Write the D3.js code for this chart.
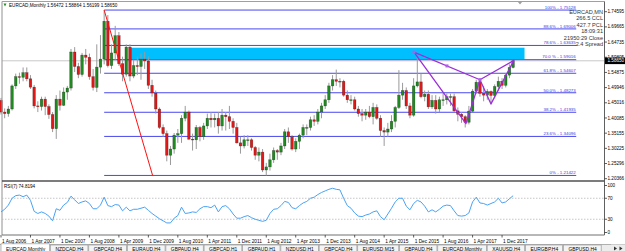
<!DOCTYPE html>
<html><head><meta charset="utf-8">
<script src="https://cdn.jsdelivr.net/npm/d3@7"></script>
<style>
body{margin:0;background:#fff;}
svg{display:block;font-family:"Liberation Sans",Arial,sans-serif;}
</style>
</head><body>
<svg id="c" width="625" height="251"></svg>
<script>
// ---------------- DATA ----------------
const months = ["2006-08","2006-09","2006-10","2006-11","2006-12",
"2007-01","2007-02","2007-03","2007-04","2007-05","2007-06","2007-07","2007-08","2007-09","2007-10","2007-11","2007-12",
"2008-01","2008-02","2008-03","2008-04","2008-05","2008-06","2008-07","2008-08","2008-09","2008-10","2008-11","2008-12",
"2009-01","2009-02","2009-03","2009-04","2009-05","2009-06","2009-07","2009-08","2009-09","2009-10","2009-11","2009-12",
"2010-01","2010-02","2010-03","2010-04","2010-05","2010-06","2010-07","2010-08","2010-09","2010-10","2010-11","2010-12",
"2011-01","2011-02","2011-03","2011-04","2011-05","2011-06","2011-07","2011-08","2011-09","2011-10","2011-11","2011-12",
"2012-01","2012-02","2012-03","2012-04","2012-05","2012-06","2012-07","2012-08","2012-09","2012-10","2012-11","2012-12",
"2013-01","2013-02","2013-03","2013-04","2013-05","2013-06","2013-07","2013-08","2013-09","2013-10","2013-11","2013-12",
"2014-01","2014-02","2014-03","2014-04","2014-05","2014-06","2014-07","2014-08","2014-09","2014-10","2014-11","2014-12",
"2015-01","2015-02","2015-03","2015-04","2015-05","2015-06","2015-07","2015-08","2015-09","2015-10","2015-11","2015-12",
"2016-01","2016-02","2016-03","2016-04","2016-05","2016-06","2016-07","2016-08","2016-09","2016-10","2016-11","2016-12",
"2017-01","2017-02","2017-03","2017-04","2017-05","2017-06","2017-07","2017-08","2017-09","2017-10","2017-11","2017-12",
"2018-01","2018-02","2018-03"];

const open = [1.458,1.420,1.415,1.430,1.505,
1.535,1.533,1.548,1.528,1.501,1.440,1.438,1.462,1.438,1.412,1.366,1.462,
1.442,1.485,1.498,1.615,1.568,1.542,1.605,1.598,1.535,1.500,1.566,1.592,
1.715,1.571,1.612,1.668,1.577,1.543,1.631,1.537,1.571,1.568,1.592,1.586,
1.507,1.482,1.430,1.370,1.350,1.280,1.300,1.345,1.350,1.400,1.420,1.332,
1.330,1.370,1.340,1.375,1.400,1.395,1.400,1.375,1.410,1.405,1.390,1.370,
1.320,1.310,1.330,1.330,1.305,1.280,1.290,1.232,1.242,1.265,1.295,1.290,
1.310,1.356,1.340,1.300,1.325,1.345,1.370,1.370,1.395,1.390,1.420,1.440,
1.460,1.505,1.525,1.520,1.520,1.475,1.460,1.460,1.430,1.415,1.410,1.420,
1.405,1.435,1.400,1.360,1.355,1.365,1.390,1.435,1.475,1.490,1.440,1.410,
1.505,1.518,1.470,1.478,1.437,1.458,1.430,1.460,1.460,1.470,1.470,1.424,
1.413,1.405,1.387,1.423,1.488,1.517,1.481,1.475,1.487,1.474,1.503,1.520,
1.507,1.540,1.56472];
const high = [1.466,1.432,1.440,1.510,1.545,
1.548,1.565,1.565,1.540,1.508,1.455,1.470,1.470,1.445,1.420,1.475,1.490,
1.500,1.505,1.625,1.631,1.580,1.612,1.625,1.610,1.560,1.640,1.670,1.751,
1.735,1.640,1.700,1.680,1.600,1.640,1.640,1.590,1.600,1.610,1.615,1.600,
1.525,1.490,1.435,1.380,1.360,1.310,1.352,1.365,1.410,1.440,1.425,1.350,
1.378,1.375,1.385,1.415,1.420,1.415,1.420,1.430,1.420,1.440,1.400,1.385,
1.340,1.345,1.345,1.335,1.310,1.305,1.300,1.255,1.285,1.305,1.300,1.320,
1.365,1.370,1.345,1.335,1.350,1.380,1.380,1.405,1.410,1.430,1.450,1.475,
1.515,1.540,1.558,1.530,1.525,1.490,1.475,1.470,1.440,1.430,1.430,1.440,
1.450,1.445,1.410,1.370,1.385,1.410,1.440,1.556,1.515,1.500,1.450,1.530,
1.599,1.545,1.490,1.490,1.475,1.475,1.470,1.485,1.480,1.480,1.480,1.435,
1.420,1.410,1.440,1.495,1.525,1.530,1.505,1.495,1.490,1.510,1.535,1.530,
1.545,1.575,1.58864];
const low = [1.412,1.400,1.405,1.425,1.495,
1.512,1.520,1.520,1.495,1.432,1.420,1.425,1.410,1.398,1.355,1.333,1.425,
1.440,1.460,1.490,1.550,1.530,1.535,1.575,1.525,1.490,1.485,1.545,1.575,
1.565,1.560,1.590,1.570,1.520,1.535,1.520,1.530,1.540,1.525,1.560,1.495,
1.470,1.415,1.365,1.340,1.260,1.248,1.285,1.320,1.320,1.390,1.330,1.295,
1.300,1.325,1.330,1.365,1.370,1.370,1.350,1.360,1.360,1.365,1.350,1.318,
1.285,1.302,1.310,1.295,1.265,1.260,1.225,1.214,1.230,1.255,1.265,1.280,
1.300,1.320,1.295,1.290,1.300,1.335,1.345,1.360,1.375,1.380,1.400,1.430,
1.450,1.490,1.505,1.500,1.470,1.450,1.445,1.425,1.405,1.390,1.395,1.400,
1.380,1.395,1.340,1.310,1.340,1.355,1.370,1.430,1.460,1.430,1.400,1.405,
1.500,1.465,1.455,1.430,1.430,1.415,1.420,1.440,1.445,1.440,1.420,1.390,
1.385,1.370,1.380,1.420,1.480,1.470,1.455,1.460,1.445,1.465,1.490,1.495,
1.500,1.530,1.56199];
const close = [1.420,1.415,1.430,1.505,1.535,
1.533,1.548,1.528,1.501,1.440,1.438,1.462,1.438,1.412,1.366,1.462,1.442,
1.485,1.498,1.615,1.568,1.542,1.605,1.598,1.535,1.500,1.566,1.592,1.715,
1.571,1.612,1.668,1.577,1.543,1.631,1.537,1.571,1.568,1.592,1.586,1.507,
1.482,1.430,1.370,1.350,1.280,1.300,1.345,1.350,1.400,1.420,1.332,1.330,
1.370,1.340,1.375,1.400,1.395,1.400,1.375,1.410,1.405,1.390,1.370,1.320,
1.310,1.330,1.330,1.305,1.280,1.290,1.232,1.242,1.265,1.295,1.290,1.310,
1.356,1.340,1.300,1.325,1.345,1.370,1.370,1.395,1.390,1.420,1.440,1.460,
1.505,1.525,1.520,1.520,1.475,1.460,1.460,1.430,1.415,1.410,1.420,1.405,
1.435,1.400,1.360,1.355,1.365,1.390,1.435,1.475,1.490,1.440,1.410,1.505,
1.518,1.470,1.478,1.437,1.458,1.430,1.460,1.460,1.470,1.470,1.424,1.413,
1.405,1.387,1.423,1.488,1.517,1.481,1.475,1.487,1.474,1.503,1.520,1.507,
1.540,1.565,1.58650];
const rsi = [44,49,57,70,75,
76,73,76,66,45,41,44,41,36,27,50,47,
57,62,74,67,60,63,65,60,50,50,57,72,
56,54,58,57,46,53,46,49,49,51,53,47,
41,36,31,27,23,23,32,37,53,41,42,44,
43,50,54,54,52,57,44,54,56,50,40,32,
32,35,37,33,30,28,26,28,41,49,50,56,
64,62,52,50,56,61,64,70,72,77,81,84,
87,89,87,86,70,56,51,42,36,35,38,40,
44,46,35,29,40,51,63,70,70,55,48,60,
66,63,55,44,48,44,49,55,57,56,46,37,
36,37,42,63,72,61,60,57,60,63,70,61,
63,69,74.8194];

const priceTicks = [1.74595,1.69665,1.64735,1.59805,1.54875,1.49946,1.45016,1.40085,1.35155,1.30225,1.25296,1.20366];
const timeTickIdx = [0,8,16,24,32,40,48,56,64,72,80,88,96,104,112,120,128,136];
const timeTickLabels = ["1 Aug 2006","1 Apr 2007","1 Dec 2007","1 Aug 2008","1 Apr 2009","1 Dec 2009","1 Aug 2010","1 Apr 2011","1 Dec 2011","1 Aug 2012","1 Apr 2013","1 Dec 2013","1 Aug 2014","1 Apr 2015","1 Dec 2015","1 Aug 2016","1 Apr 2017","1 Dec 2017"];
const rsiTicks = [100,70,30,0];

const fibPrices = [1.21422,1.34096,1.41935,1.48273,1.54607,1.59016,1.63635,1.69006,1.75128];
const fibLabels = ["0% - 1.21422","23.6% - 1.34096","38.2% - 1.41935","50.0% - 1.48273","61.8% - 1.54607","70.0 % - 1.59016","78.6% - 1.63635","88.6% - 1.69006","100% - 1.75128"];
const fibTimeStart = 28, fibTimeEnd = 156; // month index
const fibTrend = {i1:28, p1:1.75128, i2:41.15, p2:1.21422};
const zoneRect = {i1:35.3, i2:142.1, p1:1.5915, p2:1.6290};
const patternNames = ["X","A","B","C","D"];
const patternIdx = [112.1,126.2,130.0,133.0,139.2];
const patternPrice = [1.6147,1.3824,1.5250,1.4465,1.5878];

const title = "EURCAD,Monthly  1.56472 1.58864 1.56199 1.58650";
const infoLines = ["EURCAD,MN","266.5 CCL","427.7 PCL","18:09:31","21950:29 Close","2.4 Spread"];
const bid = 1.58650;
const rsiLabel = "RSI(7) 74.8194";
const tabs = ["EURCAD,Monthly","NZDCAD,H4","GBPCAD,H4","EURAUD,H4","GBPAUD,H4","GBPCAD,H1","GBPAUD,H1","NZDUSD,H1","GBPCAD,H4","EURUSD,M15","GBPAUD,H4","EURCAD,Monthly","XAUUSD,H4","EURGBP,H4","GBPUSD,H4"];

// ---------------- LAYOUT ----------------
const svg = d3.select("#c");
const L = 2, R = 604.5, T = 1.5, MB = 181, RT = 182.5, RB = 235;
const x = d3.scaleLinear().domain([0,139]).range([1,513.1]);
const y = d3.scaleLinear().domain([1.20366,1.74595]).range([178.7,11.7]);
const ry = d3.scaleLinear().domain([0,100]).range([235,182.5]);

svg.append("rect").attr("width",625).attr("height",251).attr("fill","#fff");
const defs = svg.append("defs");
defs.append("clipPath").attr("id","mainclip").append("rect").attr("x",0).attr("y",T).attr("width",R-0).attr("height",MB-T-0.8);
defs.append("clipPath").attr("id","rsiclip").append("rect").attr("x",0).attr("y",RT).attr("width",R).attr("height",RB-RT);

const main = svg.append("g").attr("clip-path","url(#mainclip)");

// zone rectangle
main.append("rect")
  .attr("x",x(zoneRect.i1)).attr("width",x(zoneRect.i2)-x(zoneRect.i1))
  .attr("y",y(zoneRect.p2)).attr("height",y(zoneRect.p1)-y(zoneRect.p2))
  .attr("fill","#00bfff");

// bid line
main.append("line").attr("x1",L).attr("x2",R).attr("y1",y(bid)).attr("y2",y(bid))
  .attr("stroke","#c8c8c8").attr("stroke-width",1);

// fib levels
main.selectAll("line.fib").data(fibPrices).join("line").attr("class","fib")
  .attr("x1",x(fibTimeStart)).attr("x2",x(fibTimeEnd)+0.5)
  .attr("y1",d=>y(d)).attr("y2",d=>y(d))
  .attr("stroke","#4848ee").attr("stroke-width",1);
main.selectAll("text.fib").data(fibPrices).join("text").attr("class","fib")
  .attr("x",x(fibTimeEnd)).attr("y",d=>y(d)-1.2)
  .attr("text-anchor","end").attr("font-size",4.4).attr("fill","#3a3ae0")
  .text((d,i)=>fibLabels[i]);

// candles
const idx = d3.range(months.length);
main.selectAll("line.wick").data(idx).join("line").attr("class","wick")
  .attr("x1",i=>x(i)).attr("x2",i=>x(i))
  .attr("y1",i=>y(high[i])).attr("y2",i=>y(low[i]))
  .attr("stroke","#9a9a9a").attr("stroke-width",1);
main.selectAll("rect.body").data(idx).join("rect").attr("class","body")
  .attr("x",i=>x(i)-1.3).attr("width",2.6)
  .attr("y",i=>y(Math.max(open[i],close[i])))
  .attr("height",i=>Math.max(0.8,Math.abs(y(open[i])-y(close[i]))))
  .attr("fill",i=>close[i]>=open[i]?"#1f8a1f":"#e01818")
  .attr("stroke","rgba(0,0,0,0.45)").attr("stroke-width",0.5);

// fib trend line
main.append("line")
  .attr("x1",x(fibTrend.i1)).attr("y1",y(fibTrend.p1))
  .attr("x2",x(fibTrend.i2)).attr("y2",y(fibTrend.p2))
  .attr("stroke","#ff1010").attr("stroke-width",1);

// harmonic pattern
const P = patternIdx.map((v,k)=>[x(v),y(patternPrice[k])]);
const tri = [[0,1,2],[2,3,4]];
tri.forEach(t=>{
  main.append("path").attr("d","M"+t.map(k=>P[k].join(",")).join("L")+"Z")
    .attr("fill","none").attr("stroke","#9b2fd8").attr("stroke-width",1.3).attr("stroke-linejoin","round");
});
const handles = [P[0],[(P[0][0]+P[2][0])/2,(P[0][1]+P[2][1])/2],P[2]];
main.selectAll("rect.h").data(handles).join("rect").attr("class","h")
  .attr("x",d=>d[0]-1.5).attr("y",d=>d[1]-1.5).attr("width",3).attr("height",3)
  .attr("fill","#b060e8");

// title & info
svg.append("text").attr("x",9).attr("y",7).attr("font-size",4.6).attr("fill","#000").text(title);
svg.append("path").attr("d","M3.5,3.5L6.5,3.5L5,6.5Z").attr("fill","#2a8a2a");
svg.selectAll("text.info").data(infoLines).join("text").attr("class","info")
  .attr("x",603).attr("y",(d,i)=>14+i*6.4).attr("text-anchor","end")
  .attr("font-size",5.6).attr("fill","#333").text(d=>d);
// shift marker
svg.append("path").attr("d","M517.5,1.5L522.5,1.5L520,4.5Z").attr("fill","#a0a0a0");

// frame
svg.append("line").attr("x1",L).attr("x2",L).attr("y1",T).attr("y2",RB).attr("stroke","#909090").attr("stroke-width",1);
svg.append("line").attr("x1",L).attr("x2",R).attr("y1",T).attr("y2",T).attr("stroke","#a0a0a0").attr("stroke-width",1);
svg.append("line").attr("x1",R).attr("x2",R).attr("y1",T).attr("y2",RB).attr("stroke","#606060").attr("stroke-width",1);
svg.append("line").attr("x1",L).attr("x2",R).attr("y1",MB).attr("y2",MB).attr("stroke","#505050").attr("stroke-width",1.6);
svg.append("line").attr("x1",L).attr("x2",R).attr("y1",RB).attr("y2",RB).attr("stroke","#707070").attr("stroke-width",1);

// price axis
const pa = svg.append("g");
pa.selectAll("line").data(priceTicks).join("line")
  .attr("x1",R).attr("x2",R+2.5).attr("y1",d=>y(d)).attr("y2",d=>y(d)).attr("stroke","#333").attr("stroke-width",0.8);
pa.selectAll("text").data(priceTicks).join("text")
  .attr("x",607.5).attr("y",d=>y(d)+1.6).attr("font-size",4.6).attr("fill","#000")
  .text(d=>d.toFixed(5));
// bid box
svg.append("rect").attr("x",R+0.5).attr("y",y(bid)-3.3).attr("width",625-R).attr("height",6.6).attr("fill","#000");
svg.append("text").attr("x",607.5).attr("y",y(bid)+1.6).attr("font-size",4.6).attr("fill","#fff").text(bid.toFixed(5));

// RSI panel
const rg = svg.append("g").attr("clip-path","url(#rsiclip)");
rg.selectAll("line.lvl").data([70,30]).join("line").attr("class","lvl")
  .attr("x1",L).attr("x2",R).attr("y1",d=>ry(d)).attr("y2",d=>ry(d))
  .attr("stroke","#b8b8b8").attr("stroke-width",0.8).attr("stroke-dasharray","1.5,1.5");
rg.append("path").datum(idx)
  .attr("d",d3.line().x(i=>x(i)).y(i=>ry(rsi[i])))
  .attr("fill","none").attr("stroke","#4aa2f5").attr("stroke-width",1);
svg.append("text").attr("x",4).attr("y",187.6).attr("font-size",4.6).attr("fill","#000").text(rsiLabel);
svg.selectAll("text.rt").data(rsiTicks).join("text").attr("class","rt")
  .attr("x",607.5).attr("y",d=>Math.min(232.5,Math.max(185.5,ry(d)))+1.6)
  .attr("font-size",4.6).attr("fill","#000").text(d=>d);
svg.selectAll("line.rt").data(rsiTicks).join("line").attr("class","rt")
  .attr("x1",R).attr("x2",R+2.5).attr("y1",d=>Math.min(232.5,Math.max(185.5,ry(d)))).attr("y2",d=>Math.min(232.5,Math.max(185.5,ry(d))))
  .attr("stroke","#333").attr("stroke-width",0.8);

// time axis
svg.selectAll("line.tt").data(timeTickIdx).join("line").attr("class","tt")
  .attr("x1",i=>x(i)).attr("x2",i=>x(i)).attr("y1",RB).attr("y2",RB+2.5)
  .attr("stroke","#333").attr("stroke-width",0.8);
svg.selectAll("text.tt").data(timeTickIdx).join("text").attr("class","tt")
  .attr("x",i=>x(i)+1).attr("y",242.5).attr("font-size",4.8).attr("fill","#000")
  .text((d,k)=>timeTickLabels[k]);

// tabs
svg.append("rect").attr("x",0).attr("y",244).attr("width",625).attr("height",7).attr("fill","#ececec");
svg.append("line").attr("x1",0).attr("x2",625).attr("y1",244.5).attr("y2",244.5).attr("stroke","#a0a0a0").attr("stroke-width",0.8);
let tx = 1;
tabs.forEach((t,k)=>{
  const g = svg.append("g");
  const r = g.append("rect").attr("y",k===0?243.8:245).attr("height",8)
    .attr("fill",k===0?"#fff":"#f4f4f4").attr("stroke","#9a9a9a").attr("stroke-width",0.7);
  const te = g.append("text").attr("x",tx+5).attr("y",250.6).attr("font-size",4.9).attr("fill","#000").text(t);
  const w = te.node().getComputedTextLength()+9.5;
  r.attr("x",tx).attr("width",w);
  tx += w + 0.8;
});
svg.append("rect").attr("x",611).attr("y",244.5).attr("width",14).attr("height",7).attr("fill","#ececec");
svg.append("path").attr("d","M614,246.5L617,248.5L614,250.5Z").attr("fill","#333");
svg.append("path").attr("d","M619.5,246.5L622.5,248.5L619.5,250.5Z").attr("fill","#333");
</script>
</body></html>
